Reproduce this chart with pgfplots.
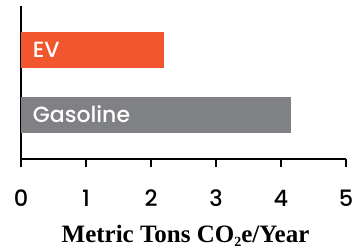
\documentclass[border=0pt]{standalone}
\usepackage{fontspec}
\usepackage{pgfplots}
\pgfplotsset{compat=1.18}
\newfontfamily\pop{Poppins}[UprightFont=* Medium]
\newfontfamily\ser{Liberation Serif}
\definecolor{evc}{RGB}{241,86,47}
\definecolor{gasc}{RGB}{128,129,132}
\begin{document}
\begin{tikzpicture}
\path[use as bounding box] (-21pt,-92pt) rectangle (342pt,159pt);
\begin{axis}[
  at={(0,0)}, anchor=south west,
  scale only axis, width=325pt, height=153pt,
  xmin=0, xmax=5, ymin=-0.677, ymax=1.677,
  axis x line=bottom, axis y line=left,
  axis line style={-, line width=1.5pt, black},
  xtick={0,1,2,3,4,5}, ytick=\empty,
  tick align=outside, major tick length=8pt,
  every tick/.style={black, line width=1.5pt},
  /pgf/number format/assume math mode=true,
  xticklabel style={font=\pop\fontsize{22.5}{26}\selectfont, anchor=base, yshift=-39pt},
  xlabel={\textbf{Metric Tons CO\raisebox{-4pt}{\fontsize{14}{14}\selectfont 2}e/Year}},
  xlabel style={font=\ser\fontsize{25}{29}\selectfont, anchor=base, at={(rel axis cs:0.5,0)}, yshift=-83pt, xshift=2pt},
  xbar, bar width=36pt, bar shift=0pt,
  clip=false,
]
\addplot[draw=none, fill=evc] coordinates {(2.2,1)};
\addplot[draw=none, fill=gasc] coordinates {(4.15,0)};
\node[anchor=base west, text=white, font=\pop\fontsize{22}{26}\selectfont, inner sep=0pt] at ([yshift=-8pt]axis cs:0.18,1) {EV};
\node[anchor=base west, text=white, font=\pop\fontsize{22}{26}\selectfont, inner sep=0pt] at ([yshift=-8pt]axis cs:0.18,0) {Gasoline};
\end{axis}
\end{tikzpicture}
\end{document}
